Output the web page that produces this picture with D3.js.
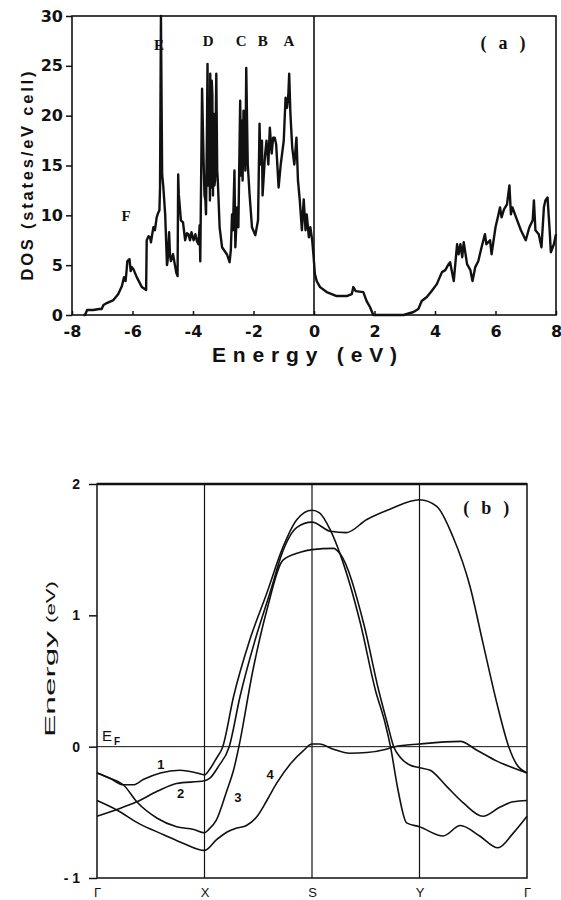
<!DOCTYPE html>
<html>
<head>
<meta charset="utf-8">
<script src="https://cdn.jsdelivr.net/npm/d3@7"></script>
<style>
  body { margin: 0; background: #fff; }
  svg { display: block; }
</style>
</head>
<body>
<svg id="chart" width="561" height="900"></svg>
<script>
(function () {
    'use strict';

    // (a) density of states, [energy eV, states/eV cell]
    var dosValence = [
        [-7.62, 0], [-7.57, 0], [-7.5, 0.5], [-7.3, 0.5], [-7.1, 0.6], [-7.02, 0.6], [-6.96, 1.0],
        [-6.85, 1.2], [-6.63, 1.5], [-6.47, 2.1], [-6.35, 2.9], [-6.28, 3.8], [-6.23, 3.4],
        [-6.2, 4.3], [-6.17, 5.4], [-6.1, 5.6], [-6.06, 4.4], [-6.02, 4.8], [-5.97, 4.6],
        [-5.86, 3.8], [-5.69, 2.8], [-5.55, 2.5], [-5.53, 7.5], [-5.47, 7.9], [-5.42, 7.8],
        [-5.39, 7.3], [-5.31, 8.8], [-5.26, 8.5], [-5.2, 9.8], [-5.17, 10.1], [-5.11, 10.5],
        [-5.09, 12.8], [-5.06, 30], [-5.02, 14.1], [-4.98, 12.8], [-4.92, 10.1], [-4.86, 5.0],
        [-4.84, 5.4], [-4.79, 8.3], [-4.76, 6.0], [-4.73, 5.4], [-4.66, 6.1], [-4.62, 5.4],
        [-4.55, 4.2], [-4.51, 3.9], [-4.49, 14.1], [-4.47, 12.1], [-4.4, 9.5], [-4.33, 9.3],
        [-4.26, 7.5], [-4.2, 8.2], [-4.15, 8.1], [-4.1, 7.5], [-4.05, 8.3], [-3.98, 7.5],
        [-3.92, 8.1], [-3.87, 7.4], [-3.82, 7.1], [-3.78, 9.0], [-3.76, 5.4], [-3.7, 22.7],
        [-3.65, 15.5], [-3.62, 12.0], [-3.59, 11.5], [-3.57, 10.1], [-3.54, 18.0], [-3.52, 25.2],
        [-3.49, 13.0], [-3.46, 17.5], [-3.44, 11.5], [-3.43, 24.2], [-3.41, 14.0], [-3.4, 12.8],
        [-3.38, 23.5], [-3.36, 22.2], [-3.34, 12.0], [-3.32, 20.2], [-3.29, 13.0], [-3.27, 13.5],
        [-3.23, 24.2], [-3.2, 14.5], [-3.18, 13.5], [-3.12, 8.8], [-3.04, 6.8], [-2.88, 6.1],
        [-2.79, 5.3], [-2.75, 6.5], [-2.71, 10.1], [-2.68, 8.5], [-2.63, 14.5], [-2.6, 6.8],
        [-2.54, 10.8], [-2.5, 8.8], [-2.44, 21.5], [-2.41, 14.0], [-2.38, 19.5], [-2.36, 13.5],
        [-2.33, 20.5], [-2.3, 19.1], [-2.27, 14.5], [-2.24, 24.8], [-2.19, 15.1], [-2.13, 12.1],
        [-2.05, 8.8], [-1.94, 8.0], [-1.85, 9.5], [-1.8, 19.2], [-1.77, 15.1], [-1.72, 17.5],
        [-1.7, 12.0], [-1.67, 13.5], [-1.62, 16.0], [-1.57, 17.5], [-1.51, 15.1], [-1.46, 18.8],
        [-1.4, 16.2], [-1.35, 17.8], [-1.3, 17.8], [-1.25, 17.1], [-1.17, 12.8], [-1.1, 15.1],
        [-1.0, 17.5], [-0.94, 21.8], [-0.89, 20.8], [-0.85, 22.0], [-0.82, 24.2], [-0.78, 20.2],
        [-0.72, 16.8], [-0.65, 15.1], [-0.58, 17.8], [-0.53, 13.5], [-0.47, 11.5], [-0.4, 8.5],
        [-0.34, 11.6], [-0.28, 8.5], [-0.24, 10.1], [-0.17, 7.8], [-0.12, 8.8], [-0.06, 7.5],
        [-0.02, 6.1]
    ];
    var dosConduction = [
        [0.03, 4.1], [0.09, 3.4], [0.2, 2.8], [0.42, 2.3], [0.75, 1.9], [1.08, 1.9], [1.25, 2.1],
        [1.3, 2.8], [1.38, 2.4], [1.63, 2.3], [1.74, 1.4], [1.85, 0.8], [1.96, 0], [2.96, 0],
        [3.29, 0.3], [3.45, 0.6], [3.56, 1.4], [3.73, 1.8], [3.89, 2.4], [4.06, 3.1], [4.23, 4.3],
        [4.34, 4.5], [4.45, 5.1], [4.5, 5.3], [4.62, 3.4], [4.73, 7.1], [4.78, 6.1], [4.84, 7.1],
        [4.9, 5.8], [4.95, 7.3], [5.06, 5.1], [5.17, 4.5], [5.24, 3.4], [5.33, 4.8], [5.43, 5.4],
        [5.54, 6.8], [5.65, 8.1], [5.7, 7.1], [5.82, 7.5], [5.87, 6.1], [6.0, 8.8], [6.1, 10.1],
        [6.15, 10.8], [6.2, 9.8], [6.28, 10.6], [6.38, 11.1], [6.46, 13.0], [6.51, 10.1],
        [6.56, 10.8], [6.68, 9.8], [6.84, 8.5], [7.0, 7.5], [7.12, 8.8], [7.23, 9.5], [7.27, 11.5],
        [7.32, 8.5], [7.43, 8.1], [7.52, 6.8], [7.6, 10.8], [7.65, 11.5], [7.72, 11.8], [7.79, 8.5],
        [7.83, 6.3], [7.93, 7.1], [8.0, 8.1]
    ];
    var dosXTicks = [-8, -6, -4, -2, 0, 2, 4, 6, 8];
    var dosYTicks = [0, 5, 10, 15, 20, 25, 30];
    var peakNames = ['A', 'B', 'C', 'D', 'E', 'F'];
    var peakEnergy = [-0.83, -1.69, -2.41, -3.5, -5.12, -6.21];
    var peakLevel = [27.0, 27.0, 27.0, 27.0, 26.6, 9.4];

    // (b) bands, [k along path, energy eV]
    var kLabels = ['\u0393', 'X', 'S', 'Y', '\u0393'];
    var bandYTicks = [-1, 0, 1, 2];
    var band1 = [
        [0, -0.20], [0.12, -0.24], [0.245, -0.29], [0.34, -0.29], [0.43, -0.25], [0.59, -0.20],
        [0.77, -0.18], [0.93, -0.20], [1.0, -0.215], [1.05, -0.17], [1.11, -0.09], [1.17, 0.0],
        [1.27, 0.38], [1.42, 0.81], [1.58, 1.17], [1.73, 1.52], [1.86, 1.73], [2.0, 1.80],
        [2.07, 1.78], [2.17, 1.65], [2.26, 1.47], [2.45, 0.94], [2.59, 0.43], [2.68, 0.18],
        [2.73, 0.0], [2.80, -0.33], [2.88, -0.58], [3.0, -0.61], [3.22, -0.68], [3.38, -0.60],
        [3.56, -0.68], [3.73, -0.77], [3.87, -0.66], [4.0, -0.53]
    ];
    var band2 = [
        [0, -0.53], [0.18, -0.48], [0.37, -0.42], [0.56, -0.34], [0.74, -0.28], [1.0, -0.26],
        [1.05, -0.24], [1.13, -0.15], [1.23, 0.0], [1.33, 0.38], [1.47, 0.81], [1.62, 1.2],
        [1.72, 1.47], [1.86, 1.67], [2.0, 1.71], [2.17, 1.64], [2.32, 1.63], [2.51, 1.73],
        [2.73, 1.81], [3.0, 1.88], [3.16, 1.83], [3.31, 1.60], [3.47, 1.22], [3.59, 0.79],
        [3.72, 0.33], [3.83, 0.0], [3.90, -0.13], [4.0, -0.2]
    ];
    var band3 = [
        [0, -0.20], [0.12, -0.24], [0.245, -0.29], [0.37, -0.42], [0.56, -0.545], [0.74, -0.61],
        [0.9, -0.63], [1.0, -0.655], [1.04, -0.63], [1.11, -0.56], [1.21, -0.33], [1.27, -0.18],
        [1.32, 0.0], [1.45, 0.58], [1.58, 1.04], [1.73, 1.42], [1.89, 1.48], [2.0, 1.50],
        [2.2, 1.51], [2.26, 1.47], [2.48, 0.94], [2.62, 0.43], [2.70, 0.18], [2.76, 0.0],
        [2.82, -0.08], [2.91, -0.14], [3.0, -0.16], [3.10, -0.18], [3.25, -0.30], [3.41, -0.43],
        [3.59, -0.53], [3.75, -0.46], [3.87, -0.42], [4.0, -0.41]
    ];
    var band4 = [
        [0, -0.41], [0.18, -0.48], [0.4, -0.59], [0.62, -0.67], [0.8, -0.735], [1.0, -0.79],
        [1.11, -0.71], [1.21, -0.65], [1.30, -0.62], [1.39, -0.60], [1.49, -0.53], [1.58, -0.41],
        [1.67, -0.28], [1.80, -0.13], [1.92, -0.03], [2.0, 0.02], [2.07, 0.02], [2.2, -0.02],
        [2.35, -0.05], [2.51, -0.045], [2.69, -0.02], [2.77, 0.0], [3.0, 0.02], [3.38, 0.04],
        [3.53, -0.025], [3.72, -0.11], [4.0, -0.2]
    ];
    var bandNames = ['1', '2', '3', '4'];
    var bandNameK = [0.595, 0.777, 1.31, 1.61];
    var bandNameE = [-0.17, -0.39, -0.42, -0.245];

    var ink = '#111';
    var svg = d3.select('#chart');

    // ---------- panel (a) ----------
    var xA = d3.scaleLinear().domain([-8, 8]).range([72, 556]);
    var yA = d3.scaleLinear().domain([0, 30]).range([315, 16]);
    var gA = svg.append('g');

    gA.append('g')
        .attr('transform', 'translate(72,0)')
        .call(d3.axisLeft(yA).tickValues(dosYTicks).tickSize(6).tickPadding(3).tickFormat(String))
        .call(styleAxis)
        .selectAll('text')
        .attr('font-family', 'DejaVu Sans').attr('font-weight', 'bold').attr('font-size', 16);

    gA.append('g')
        .attr('transform', 'translate(0,315)')
        .call(d3.axisBottom(xA).tickValues(dosXTicks).tickSizeInner(-4).tickSizeOuter(0).tickPadding(11).tickFormat(String))
        .call(styleAxis)
        .selectAll('text')
        .attr('font-family', 'DejaVu Sans').attr('font-weight', 'bold').attr('font-size', 16);

    gA.append('rect')
        .attr('x', xA(-8)).attr('y', yA(30))
        .attr('width', xA(8) - xA(-8)).attr('height', yA(0) - yA(30))
        .attr('fill', 'none').attr('stroke', ink).attr('stroke-width', 1.6);

    gA.append('line')
        .attr('x1', xA(0)).attr('x2', xA(0))
        .attr('y1', yA(0)).attr('y2', yA(30))
        .attr('stroke', ink).attr('stroke-width', 1.6);

    var dosLine = d3.line()
        .x(function (d) { return xA(d[0]); })
        .y(function (d) { return yA(d[1]); });

    gA.append('path')
        .attr('d', dosLine(dosValence.concat(dosConduction)))
        .attr('fill', 'none')
        .attr('stroke', ink)
        .attr('stroke-width', 2.4)
        .attr('stroke-linejoin', 'round');

    peakNames.forEach(function (name, i) {
        gA.append('text')
            .attr('x', xA(peakEnergy[i])).attr('y', yA(peakLevel[i]))
            .attr('text-anchor', 'middle')
            .attr('font-family', 'Liberation Serif').attr('font-weight', 'bold').attr('font-size', 15)
            .attr('fill', ink)
            .text(name);
    });

    gA.append('text')
        .attr('x', xA(6.25)).attr('y', yA(26.7))
        .attr('text-anchor', 'middle')
        .attr('font-family', 'Liberation Serif').attr('font-weight', 'bold').attr('font-size', 18)
        .attr('textLength', 45).attr('lengthAdjust', 'spacing')
        .attr('fill', ink)
        .text('( a )');

    gA.append('text')
        .attr('x', 304.5).attr('y', 362)
        .attr('text-anchor', 'middle')
        .attr('font-family', 'Liberation Sans').attr('font-weight', 'bold').attr('font-size', 21)
        .attr('textLength', 185).attr('lengthAdjust', 'spacing')
        .attr('fill', ink)
        .text('Energy (eV)');

    gA.append('text')
        .attr('transform', 'translate(33,176) rotate(-90)')
        .attr('text-anchor', 'middle')
        .attr('font-family', 'Liberation Sans').attr('font-weight', 'bold').attr('font-size', 16.5)
        .attr('textLength', 209).attr('lengthAdjust', 'spacing')
        .attr('fill', ink)
        .text('DOS  (states/eV  cell)');

    // ---------- panel (b) ----------
    var xB = d3.scaleLinear().domain([0, 4]).range([97, 527]);
    var yB = d3.scaleLinear().domain([-1, 2]).range([878, 484]);
    var gB = svg.append('g');

    gB.append('g')
        .attr('transform', 'translate(97,0)')
        .call(d3.axisLeft(yB).tickValues(bandYTicks).tickSize(8).tickPadding(9)
            .tickFormat(function (d) { return d < 0 ? '- ' + Math.abs(d) : String(d); }))
        .call(styleAxis)
        .selectAll('text')
        .attr('font-family', 'Liberation Sans').attr('font-weight', 'bold').attr('font-size', 14);

    gB.append('g')
        .attr('transform', 'translate(0,878)')
        .call(d3.axisBottom(xB).tickValues([0, 1, 2, 3, 4]).tickSize(0).tickPadding(10)
            .tickFormat(function (d) { return kLabels[d]; }))
        .call(styleAxis)
        .selectAll('text')
        .attr('font-family', 'Liberation Sans').attr('font-size', 13);

    gB.append('rect')
        .attr('x', xB(0)).attr('y', yB(2))
        .attr('width', xB(4) - xB(0)).attr('height', yB(-1) - yB(2))
        .attr('fill', 'none').attr('stroke', ink).attr('stroke-width', 1.5);

    gB.append('line')
        .attr('x1', xB(0)).attr('x2', xB(4))
        .attr('y1', yB(2)).attr('y2', yB(2))
        .attr('stroke', ink).attr('stroke-width', 2.4);

    gB.selectAll('line.kline')
        .data([1, 2, 3])
        .enter().append('line')
        .attr('class', 'kline')
        .attr('x1', function (d) { return xB(d); }).attr('x2', function (d) { return xB(d); })
        .attr('y1', yB(-1)).attr('y2', yB(2))
        .attr('stroke', ink).attr('stroke-width', 1.2);

    gB.append('line')
        .attr('x1', xB(0)).attr('x2', xB(4))
        .attr('y1', yB(0)).attr('y2', yB(0))
        .attr('stroke', ink).attr('stroke-width', 1);

    var bandLine = d3.line()
        .x(function (d) { return xB(d[0]); })
        .y(function (d) { return yB(d[1]); })
        .curve(d3.curveMonotoneX);

    [band1, band2, band3, band4].forEach(function (band) {
        gB.append('path')
            .attr('d', bandLine(band))
            .attr('fill', 'none')
            .attr('stroke', ink)
            .attr('stroke-width', 1.6);
    });

    bandNames.forEach(function (name, i) {
        gB.append('text')
            .attr('x', xB(bandNameK[i])).attr('y', yB(bandNameE[i]))
            .attr('text-anchor', 'middle')
            .attr('font-family', 'Liberation Sans').attr('font-weight', 'bold').attr('font-size', 13)
            .attr('fill', ink)
            .text(name);
    });

    var ef = gB.append('text')
        .attr('x', 102).attr('y', 741)
        .attr('font-family', 'Liberation Sans').attr('font-size', 15)
        .attr('fill', ink);
    ef.append('tspan').text('E');
    ef.append('tspan').attr('dx', 2).attr('dy', 4).attr('font-size', 10).attr('font-weight', 'bold').text('F');

    gB.append('text')
        .attr('x', xB(3.62)).attr('y', yB(1.77))
        .attr('text-anchor', 'middle')
        .attr('font-family', 'Liberation Serif').attr('font-weight', 'bold').attr('font-size', 18)
        .attr('textLength', 46).attr('lengthAdjust', 'spacing')
        .attr('fill', ink)
        .text('( b )');

    gB.append('text')
        .attr('transform', 'translate(55,737) rotate(-90)')
        .attr('font-family', 'Liberation Sans').attr('font-size', 15)
        .attr('textLength', 106).attr('lengthAdjust', 'spacingAndGlyphs')
        .attr('fill', ink)
        .text('Energy');

    gB.append('text')
        .attr('transform', 'translate(55,623) rotate(-90)')
        .attr('font-family', 'Liberation Sans').attr('font-size', 12)
        .attr('textLength', 42).attr('lengthAdjust', 'spacingAndGlyphs')
        .attr('fill', ink)
        .text('(eV)');

    function styleAxis(g) {
        g.select('.domain').remove();
        g.selectAll('.tick line').attr('stroke', ink).attr('stroke-width', 1.5);
        g.selectAll('.tick text').attr('fill', ink);
    }
}());
</script>
</body>
</html>
